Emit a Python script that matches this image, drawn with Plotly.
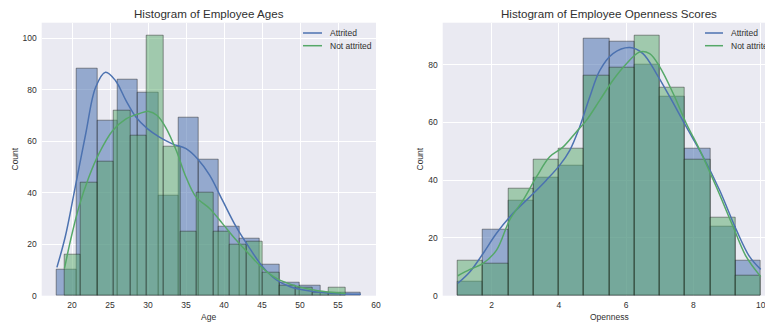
import numpy as np
import plotly.graph_objects as go

# ---------------- data ----------------
# Age histogram (Attrited): 15 bins from 18 to 58
age_edges_attr = np.linspace(18, 58, 16)
age_counts_attr = [10, 88, 68, 84, 79, 39, 69, 53, 27, 22, 12, 5, 4, 1, 1]
# Age histogram (Not attrited): 17 bins from 19 to 56
age_edges_not = np.linspace(19, 56, 18)
age_counts_not = [16, 44, 52, 72, 62, 101, 58, 25, 40, 25, 20, 21, 9, 4, 3, 1, 3]

# Age KDE curves
age_kde_x_attr = [18.0, 19.1, 20.4, 21.8, 23.1, 24.4, 25.7, 27.1, 28.4, 29.9, 31.5, 33.2,
                  35.0, 36.5, 38.1, 39.8, 41.6, 43.4, 45.1, 46.9, 48.7, 51.3, 54.4, 58.0]
age_kde_y_attr = [11.0, 22.9, 42.0, 63.0, 81.0, 86.8, 83.6, 75.8, 69.4, 64.9, 61.6, 59.0,
                  57.1, 53.2, 46.8, 37.0, 26.7, 18.3, 11.2, 6.1, 3.5, 1.8, 0.9, 0.6]
age_kde_x_not = [19.0, 19.8, 20.9, 22.2, 23.5, 25.3, 27.1, 28.8, 30.1, 31.2, 32.3, 33.7,
                 35.0, 36.3, 38.1, 39.8, 41.6, 43.4, 45.1, 46.9, 49.1, 51.8, 54.4, 56.0]
age_kde_y_not = [10.6, 21.6, 34.5, 46.0, 55.0, 64.0, 68.7, 70.7, 71.6, 70.0, 65.5, 56.5,
                 46.0, 38.4, 33.9, 28.0, 21.6, 15.8, 10.6, 6.7, 4.1, 2.2, 1.2, 0.9]

# Openness histogram: 12 bins from 1 to 10
open_edges = np.linspace(1, 10, 13)
open_counts_attr = [5, 23, 33, 41, 45, 89, 88, 80, 69, 51, 24, 12]
open_counts_not = [12, 11, 37, 47, 51, 76, 79, 90, 72, 47, 27, 7]

# Openness KDE curves
open_kde_x_attr = [1.0, 1.36, 1.75, 2.15, 2.64, 3.14, 3.63, 4.03, 4.33, 4.62, 4.92, 5.22,
                   5.61, 6.11, 6.5, 6.9, 7.3, 7.79, 8.29, 8.78, 9.28, 9.67, 10.0]
open_kde_y_attr = [4.3, 8.3, 14.6, 21.6, 28.5, 34.2, 40.0, 45.2, 50.4, 58.4, 68.8, 78.0,
                   83.8, 85.9, 83.8, 76.9, 68.8, 58.4, 48.1, 36.5, 22.7, 13.5, 9.1]
open_kde_x_not = [1.0, 1.36, 1.75, 2.15, 2.54, 2.94, 3.34, 3.73, 4.13, 4.52, 4.82, 5.22,
                  5.61, 6.01, 6.41, 6.7, 7.0, 7.4, 7.79, 8.19, 8.68, 9.18, 9.57, 10.0]
open_kde_y_not = [6.9, 9.1, 11.2, 15.8, 26.2, 33.1, 41.2, 48.1, 51.5, 56.7, 60.7, 67.7,
                  74.6, 80.3, 84.4, 83.8, 79.2, 70.0, 59.6, 50.4, 37.7, 23.9, 13.5, 6.6]

series_names = ["Attrited", "Not attrited"]
titles = ["Histogram of Employee Ages", "Histogram of Employee Openness Scores"]
x_titles = ["Age", "Openness"]
y_title = "Count"
age_ticks = [20, 25, 30, 35, 40, 45, 50, 55, 60]
age_yticks = [0, 20, 40, 60, 80, 100]
open_ticks = [2, 4, 6, 8, 10]
open_yticks = [0, 20, 40, 60, 80]

# ---------------- style ----------------
BLUE = "#4C72B0"
GREEN = "#55A868"
BLUE_FILL = "rgba(76,114,176,0.55)"
GREEN_FILL = "rgba(85,168,104,0.5)"
EDGE = "rgba(30,30,30,0.45)"
BG = "#EAEAF2"
FONT = "Liberation Sans, Arial, sans-serif"
TXT = "#303030"
W, H = 765, 325


def px_x(p):
    return p / W


def px_y(p):
    return 1 - p / H


def bars(edges, counts, fill, xa, ya):
    edges = np.asarray(edges)
    centers = (edges[:-1] + edges[1:]) / 2
    widths = np.diff(edges)
    return go.Bar(x=centers, y=counts, width=widths, xaxis=xa, yaxis=ya,
                  marker=dict(color=fill, line=dict(color=EDGE, width=1)),
                  showlegend=False, hoverinfo="skip")


def kde(xs, ys, color, xa, ya):
    return go.Scatter(x=xs, y=ys, mode="lines", xaxis=xa, yaxis=ya,
                      line=dict(color=color, width=1.5, shape="spline", smoothing=1.0),
                      showlegend=False, hoverinfo="skip")


fig = go.Figure()
fig.add_trace(bars(age_edges_attr, age_counts_attr, BLUE_FILL, "x", "y"))
fig.add_trace(bars(age_edges_not, age_counts_not, GREEN_FILL, "x", "y"))
fig.add_trace(bars(open_edges, open_counts_attr, BLUE_FILL, "x2", "y2"))
fig.add_trace(bars(open_edges, open_counts_not, GREEN_FILL, "x2", "y2"))
fig.add_trace(kde(age_kde_x_attr, age_kde_y_attr, BLUE, "x", "y"))
fig.add_trace(kde(age_kde_x_not, age_kde_y_not, GREEN, "x", "y"))
fig.add_trace(kde(open_kde_x_attr, open_kde_y_attr, BLUE, "x2", "y2"))
fig.add_trace(kde(open_kde_x_not, open_kde_y_not, GREEN, "x2", "y2"))

ydom = [1 - 295.7 / H, 1 - 22.7 / H]
axis_common = dict(showgrid=True, gridcolor="white", gridwidth=1, zeroline=False,
                   showline=False, ticks="", tickfont=dict(family=FONT, size=8.5, color=TXT),
                   fixedrange=True, ticklabeloverflow="allow")

fig.update_layout(
    width=W, height=H,
    margin=dict(l=0, r=0, t=0, b=0, pad=0, autoexpand=False),
    paper_bgcolor="white", plot_bgcolor=BG,
    barmode="overlay", bargap=0,
    showlegend=False,
    xaxis=dict(domain=[41.7 / W, 376 / W], range=[16, 60], tickvals=age_ticks,
               anchor="y", ticklabelstandoff=3, **axis_common),
    yaxis=dict(domain=ydom, range=[0, 106.05], tickvals=age_yticks,
               anchor="x", ticklabelstandoff=4, **axis_common),
    xaxis2=dict(domain=[442.7 / W, 1.0], range=[0.55, 10.128], tickvals=open_ticks,
                anchor="y2", ticklabelstandoff=3, **axis_common),
    yaxis2=dict(domain=ydom, range=[0, 94.5], tickvals=open_yticks,
                anchor="x2", ticklabelstandoff=4, **axis_common),
)

ann = []
# titles
for cx, t in zip([208.9, 609.4], titles):
    ann.append(dict(x=px_x(cx), y=px_y(13), xref="paper", yref="paper", text=t,
                    showarrow=False, xanchor="center", yanchor="middle",
                    font=dict(family=FONT, size=11.6, color=TXT)))
# x axis titles
for cx, t in zip([208.9, 609.4], x_titles):
    ann.append(dict(x=px_x(cx), y=px_y(316.5), xref="paper", yref="paper", text=t,
                    showarrow=False, xanchor="center", yanchor="middle",
                    font=dict(family=FONT, size=8.5, color=TXT)))
# y axis titles
for cx in [14.5, 419.5]:
    ann.append(dict(x=px_x(cx), y=px_y(159), xref="paper", yref="paper", text=y_title,
                    showarrow=False, xanchor="center", yanchor="middle", textangle=-90,
                    font=dict(family=FONT, size=8.5, color=TXT)))

shapes = []
# legends
for lx0, lx1, tx in [(303, 322, 328), (705, 723, 729)]:
    for ly, col, name in [(33, BLUE, series_names[0]), (45.7, GREEN, series_names[1])]:
        shapes.append(dict(type="line", xref="paper", yref="paper",
                           x0=px_x(lx0), x1=px_x(lx1), y0=px_y(ly), y1=px_y(ly),
                           line=dict(color=col, width=1.5)))
        ann.append(dict(x=px_x(tx), y=px_y(ly), xref="paper", yref="paper", text=name,
                        showarrow=False, xanchor="left", yanchor="middle",
                        font=dict(family=FONT, size=8.5, color=TXT)))

fig.update_layout(annotations=ann, shapes=shapes)
fig.write_html(
    "out.html",
    config={"displayModeBar": False},
    post_script="document.body.style.margin='0';document.body.style.overflow='hidden';"
                "document.documentElement.style.overflow='hidden';",
)
